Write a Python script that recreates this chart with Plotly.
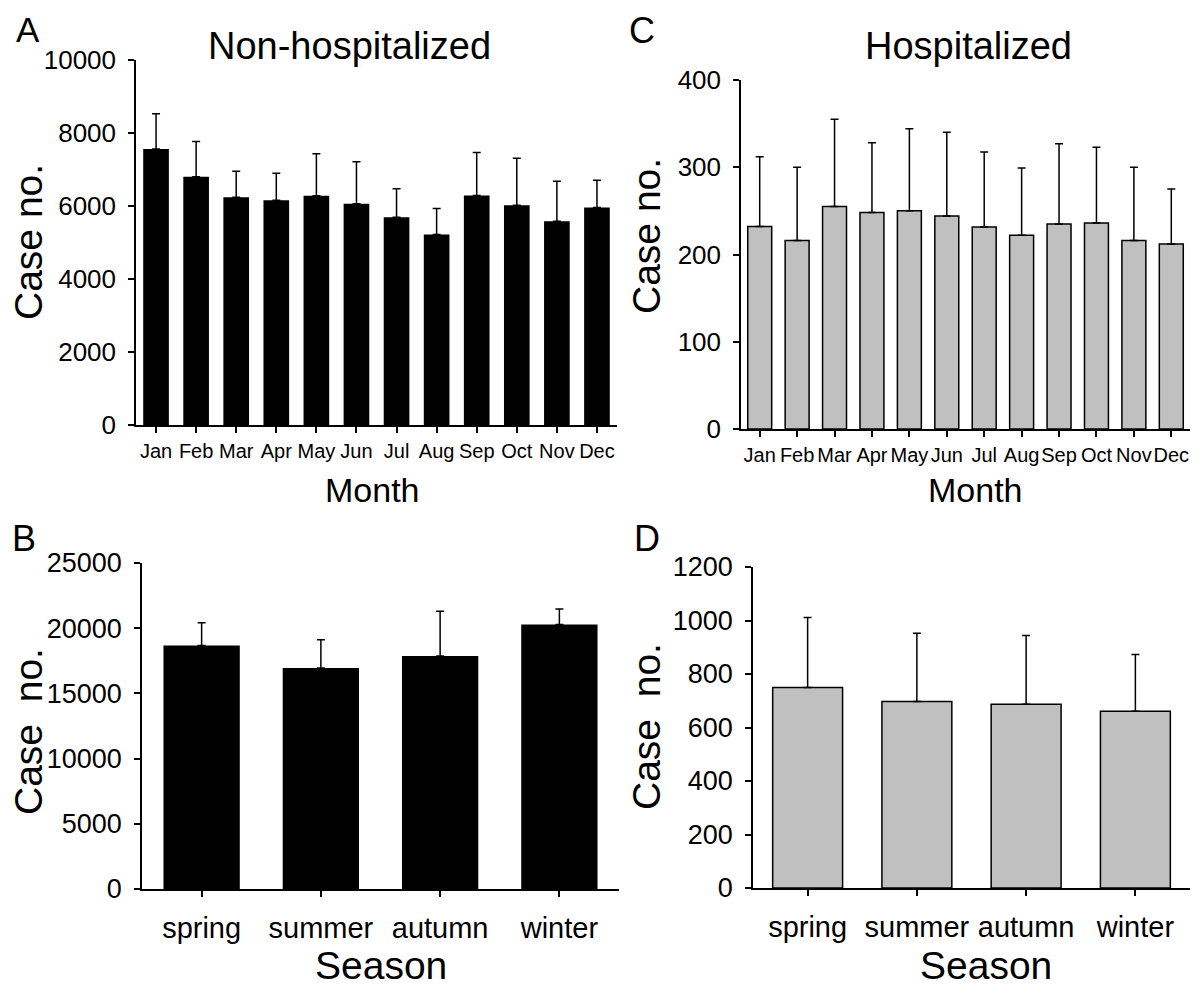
import plotly.graph_objects as go
from plotly.subplots import make_subplots

# Data
months = ['Jan', 'Feb', 'Mar', 'Apr', 'May', 'Jun', 'Jul', 'Aug', 'Sep', 'Oct', 'Nov', 'Dec']
seasons = ['spring', 'summer', 'autumn', 'winter']

nonhosp_month = [7560, 6800, 6240, 6160, 6280, 6060, 5690, 5220, 6290, 6020, 5580, 5960]
nonhosp_month_sd = [965, 965, 710, 735, 1150, 1155, 785, 710, 1175, 1285, 1095, 745]

hosp_month = [232, 216, 255, 248, 250, 244, 231.5, 222, 235, 236, 216, 212]
hosp_month_sd = [80, 84, 100, 80, 94, 96, 86, 77, 92, 87, 84, 63]

nonhosp_season = [18670, 16940, 17860, 20280]
nonhosp_season_sd = [1740, 2170, 3440, 1200]

hosp_season = [750, 697, 687, 661]
hosp_season_sd = [261, 255, 257, 212]

FONT = 'Liberation Sans, Arial, Helvetica, sans-serif'
GRAY = '#c0c0c0'


def err(sd):
    return dict(type='data', symmetric=False, array=sd, arrayminus=[0] * len(sd),
                color='black', thickness=1.5, width=4)


fig = make_subplots(rows=2, cols=2)

fig.add_trace(go.Bar(x=months, y=nonhosp_month, error_y=err(nonhosp_month_sd),
                     marker=dict(color='black', line=dict(width=0))), row=1, col=1)
fig.add_trace(go.Bar(x=months, y=hosp_month, error_y=err(hosp_month_sd),
                     marker=dict(color=GRAY, line=dict(color='black', width=1.5))), row=1, col=2)
fig.add_trace(go.Bar(x=seasons, y=nonhosp_season, error_y=err(nonhosp_season_sd),
                     marker=dict(color='black', line=dict(width=0))), row=2, col=1)
fig.add_trace(go.Bar(x=seasons, y=hosp_season, error_y=err(hosp_season_sd),
                     marker=dict(color=GRAY, line=dict(color='black', width=1.5))), row=2, col=2)

# the page body has an 8px margin, so keep the figure inside the window
OFF = 8
W, H = 1200 - 2 * OFF, 995 - 2 * OFF


def xdom(a, b):
    return [(a - OFF) / W, (b - OFF) / W]


def ydom(top, bottom):
    return [1 - (bottom - OFF) / H, 1 - (top - OFF) / H]


axis_common = dict(showline=True, linecolor='black', linewidth=1.5, ticks='outside',
                   ticklen=6, tickwidth=1.5, tickcolor='black', showgrid=False,
                   zeroline=False, color='black', automargin=False)

# A
fig.update_xaxes(domain=xdom(136, 617), tickfont=dict(size=20), ticklabelstandoff=1,
                 tickangle=0, **axis_common, row=1, col=1)
fig.update_yaxes(domain=ydom(60, 425), range=[0, 10000], tickvals=[0, 2000, 4000, 6000, 8000, 10000],
                 tickformat='d', tickfont=dict(size=26), ticklabelstandoff=7,
                 **axis_common, row=1, col=1)
# C
fig.update_xaxes(domain=xdom(741, 1190), tickfont=dict(size=20), ticklabelstandoff=1,
                 tickangle=0, **axis_common, row=1, col=2)
fig.update_yaxes(domain=ydom(80, 429), range=[0, 400], tickvals=[0, 100, 200, 300, 400],
                 tickformat='d', tickfont=dict(size=26), ticklabelstandoff=7,
                 **axis_common, row=1, col=2)
# B
fig.update_xaxes(domain=xdom(142, 619), tickfont=dict(size=29), ticklabelstandoff=6,
                 tickangle=0, **axis_common, row=2, col=1)
fig.update_yaxes(domain=ydom(563, 889), range=[0, 25000],
                 tickvals=[0, 5000, 10000, 15000, 20000, 25000],
                 tickformat='d', tickfont=dict(size=27), ticklabelstandoff=7,
                 **axis_common, row=2, col=1)
# D
fig.update_xaxes(domain=xdom(753, 1190), tickfont=dict(size=29), ticklabelstandoff=6,
                 tickangle=0, **axis_common, row=2, col=2)
fig.update_yaxes(domain=ydom(567, 888), range=[0, 1200],
                 tickvals=[0, 200, 400, 600, 800, 1000, 1200],
                 tickformat='d', tickfont=dict(size=27), ticklabelstandoff=7,
                 **axis_common, row=2, col=2)


def label(text, x, y, size, angle=0):
    fig.add_annotation(text=text, x=(x - OFF) / W, y=1 - (y - OFF) / H,
                       xref='paper', yref='paper',
                       showarrow=False, textangle=angle, xanchor='center', yanchor='middle',
                       font=dict(size=size, color='black', family=FONT))


# panel letters
label('A', 28, 29, 35)
label('C', 642, 31, 36)
label('B', 24, 538, 36)
label('D', 647, 538, 36)

# titles
label('Non-hospitalized', 349, 46, 38)
label('Hospitalized', 968, 46, 38)

# y titles
label('Case no.', 28, 242, 39, -90)
label('Case no.', 646, 236, 39, -90)
label('Case  no.', 28, 732, 39, -90)
label('Case  no.', 646, 727, 39, -90)

# x titles
label('Month', 372, 490, 34)
label('Month', 975, 490, 34)
label('Season', 381, 965, 39)
label('Season', 986, 965, 39)

fig.update_layout(
    template='none',
    width=W, height=H,
    margin=dict(l=0, r=0, t=0, b=0),
    paper_bgcolor='white', plot_bgcolor='white',
    showlegend=False,
    bargap=0.36,
    font=dict(family=FONT, color='black'),
)

fig.write_html('out.html')
